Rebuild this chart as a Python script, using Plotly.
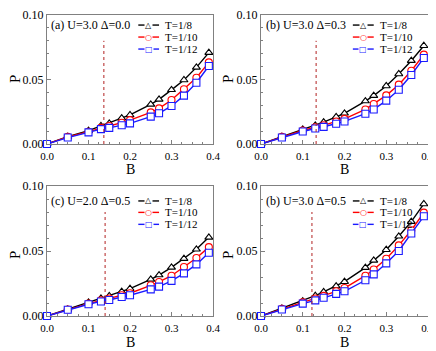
import plotly.graph_objects as go

# shared field values
B = [0.0, 0.05, 0.10, 0.13, 0.15, 0.18, 0.20, 0.25, 0.27, 0.30, 0.33, 0.36, 0.39]
T_LABELS = ["T=1/8", "T=1/10", "T=1/12"]

# panel (a) U=3.0 D=0.0
p_a_t8 = [0, 0.0057, 0.0103, 0.0140, 0.0160, 0.0200, 0.0225, 0.0307, 0.0346, 0.0420, 0.0496, 0.0594, 0.0708]
p_a_t10 = [0, 0.0055, 0.0095, 0.0125, 0.0140, 0.0165, 0.0185, 0.0245, 0.0276, 0.0341, 0.0424, 0.0514, 0.0633]
p_a_t12 = [0, 0.0050, 0.0090, 0.0115, 0.0125, 0.0145, 0.0160, 0.0212, 0.0238, 0.0295, 0.0375, 0.0475, 0.0605]

# panel (b) U=3.0 D=0.3
p_b_t8 = [0, 0.0057, 0.0114, 0.0145, 0.0170, 0.0210, 0.0238, 0.0333, 0.0375, 0.0450, 0.0543, 0.0646, 0.0762]
p_b_t10 = [0, 0.0055, 0.0105, 0.0130, 0.0145, 0.0175, 0.0195, 0.0268, 0.0310, 0.0377, 0.0460, 0.0568, 0.0693]
p_b_t12 = [0, 0.0050, 0.0097, 0.0120, 0.0133, 0.0157, 0.0175, 0.0235, 0.0268, 0.0336, 0.0421, 0.0535, 0.0667]

# panel (c) U=2.0 D=0.5
p_c_t8 = [0, 0.0051, 0.0105, 0.0136, 0.0154, 0.0187, 0.0210, 0.0282, 0.0315, 0.0374, 0.0441, 0.0513, 0.0605]
p_c_t10 = [0, 0.0050, 0.0095, 0.0120, 0.0135, 0.0160, 0.0175, 0.0236, 0.0262, 0.0310, 0.0377, 0.0446, 0.0530]
p_c_t12 = [0, 0.0048, 0.0090, 0.0112, 0.0123, 0.0146, 0.0160, 0.0205, 0.0226, 0.0270, 0.0328, 0.0397, 0.0487]

# panel (d) U=3.0 D=0.5 (labelled "(b)" in the original)
p_d_t8 = [0, 0.0059, 0.0115, 0.0156, 0.0185, 0.0230, 0.0264, 0.0372, 0.0428, 0.0510, 0.0613, 0.0726, 0.0862]
p_d_t10 = [0, 0.0055, 0.0105, 0.0135, 0.0155, 0.0190, 0.0215, 0.0310, 0.0358, 0.0440, 0.0543, 0.0660, 0.0795]
p_d_t12 = [0, 0.0050, 0.0095, 0.0120, 0.0140, 0.0170, 0.0190, 0.0275, 0.0320, 0.0405, 0.0500, 0.0635, 0.0767]

# dotted vertical marker per panel
crit_B = [0.137, 0.132, 0.140, 0.122]
crit_top = 0.08

panel_labels = ["(a) U=3.0 Δ=0.0", "(b) U=3.0 Δ=0.3", "(c) U=2.0 Δ=0.5", "(b) U=3.0 Δ=0.5"]
panel_data = [
    (p_a_t8, p_a_t10, p_a_t12),
    (p_b_t8, p_b_t10, p_b_t12),
    (p_c_t8, p_c_t10, p_c_t12),
    (p_d_t8, p_d_t10, p_d_t12),
]

SERIF = "Liberation Serif"
COLORS = ["#000000", "#ff0000", "#1a1aff"]
SYMBOLS = ["triangle-up", "circle", "square"]
GLYPHS = ["△", "○", "□"]
FRAME = "#808080"

OFF = 8  # page body margin
W, H = 436 - OFF, 351 - OFF  # figure fits the window after the body margin


def px(x):
    return (x - OFF) / W


def py(y):
    return 1 - (y - OFF) / H


# panel boxes in page pixels
x_box = [(47, 213), (261, 428)]
y_box = [(15, 144), (186, 316)]
x_doms = [[px(a), px(b)] for a, b in x_box]
y_doms = [[py(b), py(a)] for a, b in y_box]
# legend row positions (domain fraction) per row of panels
legend_rows = [[0.922, 0.829, 0.736], [0.885, 0.797, 0.705]]
p_title_x = [15, 228]
p_title_y = [79, 255]
b_title_y = [169, 342.5]

fig = go.Figure()
shapes = []
annotations = []

for i, (label, series) in enumerate(zip(panel_labels, panel_data)):
    r, c = divmod(i, 2)
    n = "" if i == 0 else str(i + 1)
    xa, ya = "x" + n, "y" + n

    for k, vals in enumerate(series):
        fig.add_trace(
            go.Scatter(
                x=B,
                y=vals,
                mode="lines+markers",
                line=dict(color=COLORS[k], width=1.4),
                marker=dict(symbol=SYMBOLS[k], size=7, color="white",
                            line=dict(color=COLORS[k], width=1.1)),
                xaxis=xa,
                yaxis=ya,
                showlegend=False,
                cliponaxis=False,
            )
        )

    fig.add_trace(
        go.Scatter(
            x=[crit_B[i], crit_B[i]],
            y=[0, crit_top],
            mode="lines",
            line=dict(color="#b22222", width=1, dash="dot"),
            xaxis=xa,
            yaxis=ya,
            showlegend=False,
        )
    )

    fig.layout["xaxis" + n] = dict(
        domain=x_doms[c], anchor=ya, range=[0, 0.4], dtick=0.1, tickformat=".1f",
        ticks="inside", ticklen=4, tickcolor=FRAME, automargin=False, ticklabelstandoff=2,
        minor=dict(dtick=0.025, ticks="inside", ticklen=2, tickcolor=FRAME),
        showline=True, mirror=True, linecolor=FRAME, linewidth=1,
        showgrid=False, zeroline=False,
        tickfont=dict(family=SERIF, size=11, color="black"),
    )
    fig.layout["yaxis" + n] = dict(
        domain=y_doms[r], anchor=xa, range=[0, 0.1], dtick=0.05, tickformat=".2f",
        ticks="inside", ticklen=4, tickcolor=FRAME, automargin=False,
        minor=dict(dtick=0.01, ticks="inside", ticklen=2, tickcolor=FRAME),
        showline=True, mirror=True, linecolor=FRAME, linewidth=1,
        showgrid=False, zeroline=False,
        tickfont=dict(family=SERIF, size=12, color="black"),
    )

    # axis titles
    annotations.append(dict(
        text="P", xref="paper", yref="paper", x=px(p_title_x[c]), y=py(p_title_y[r]),
        xanchor="center", yanchor="middle", textangle=-90, showarrow=False, borderpad=0,
        font=dict(family=SERIF, size=15, color="black"),
    ))
    annotations.append(dict(
        text="B", xref="paper", yref="paper", x=sum(x_doms[c]) / 2, y=py(b_title_y[r]),
        xanchor="center", yanchor="middle", showarrow=False, borderpad=0,
        font=dict(family=SERIF, size=14, color="black"),
    ))

    xd, yd = xa + " domain", ya + " domain"
    annotations.append(dict(
        text=label, xref=xd, yref=yd, x=0.015, y=legend_rows[r][0],
        xanchor="left", yanchor="middle", showarrow=False,
        font=dict(family=SERIF, size=12, color="black"),
    ))
    for k in range(3):
        yy = legend_rows[r][k]
        shapes.append(dict(type="line", xref=xd, yref=yd, x0=0.55, x1=0.675, y0=yy, y1=yy,
                           line=dict(color=COLORS[k], width=1.4)))
        annotations.append(dict(
            text=GLYPHS[k], xref=xd, yref=yd, x=0.6125, y=yy, xanchor="center", yanchor="middle",
            showarrow=False, bgcolor="white", borderpad=0,
            font=dict(family="DejaVu Sans", size=8, color=COLORS[k]),
        ))
        annotations.append(dict(
            text=T_LABELS[k], xref=xd, yref=yd, x=0.70, y=yy, xanchor="left", yanchor="middle",
            showarrow=False, font=dict(family=SERIF, size=11, color="black"),
        ))

fig.update_layout(
    width=W,
    height=H,
    margin=dict(l=0, r=0, t=0, b=0, autoexpand=False),
    paper_bgcolor="white",
    plot_bgcolor="white",
    shapes=shapes,
    annotations=annotations,
    font=dict(family=SERIF, color="black"),
)

fig.write_html("out.html")
